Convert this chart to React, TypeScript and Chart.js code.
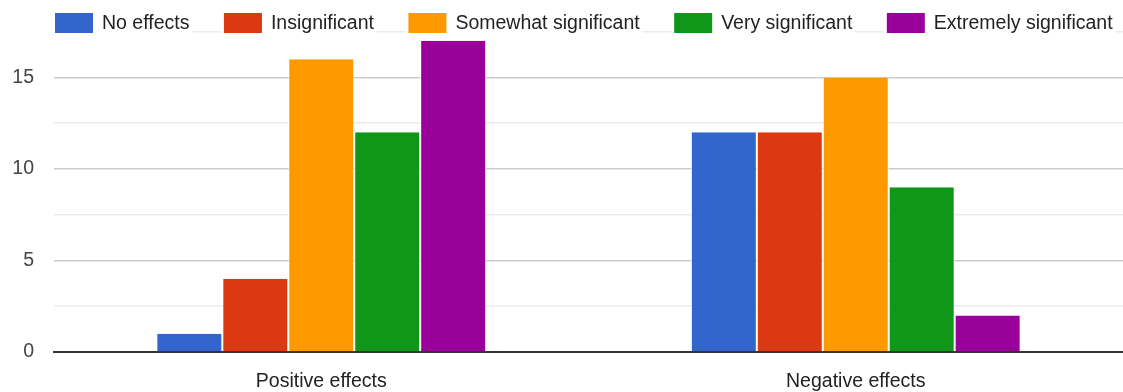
import React, { useEffect, useRef } from "react";
import { Chart, registerables } from "chart.js";

Chart.register(...registerables);

// Categories and series values
const categories = ["Positive effects", "Negative effects"];
const seriesNames = [
  "No effects",
  "Insignificant",
  "Somewhat significant",
  "Very significant",
  "Extremely significant",
];
const noEffects = [1, 12];
const insignificant = [4, 12];
const somewhatSignificant = [16, 15];
const verySignificant = [12, 9];
const extremelySignificant = [17, 2];
const seriesColors = ["#3366cc", "#dc3912", "#ff9900", "#109618", "#990099"];

const FONT_FAMILY = '"Liberation Sans", Arial, sans-serif';
const FONT_SIZE = 19.5;

// Legend drawn on top of the plot, over the upper gridline
const topLegend = {
  id: "topLegend",
  afterDraw(chart: any) {
    const ctx = chart.ctx as CanvasRenderingContext2D;
    ctx.save();
    ctx.font = `${FONT_SIZE}px ${FONT_FAMILY}`;
    ctx.textBaseline = "middle";
    ctx.textAlign = "left";
    const boxW = 38;
    const boxH = 20;
    const boxTop = 13;
    const gapText = 9;
    const gapItem = 34.5;
    let x = 55;
    chart.data.datasets.forEach((ds: any) => {
      const label = ds.label as string;
      const tw = ctx.measureText(label).width;
      ctx.fillStyle = "#ffffff";
      ctx.fillRect(x - 3, boxTop - 2, boxW + gapText + tw + 6, boxH + 4);
      ctx.fillStyle = ds.backgroundColor;
      ctx.fillRect(x, boxTop, boxW, boxH);
      ctx.fillStyle = "#222222";
      ctx.fillText(label, x + boxW + gapText, boxTop + boxH / 2 + 1);
      x += boxW + gapText + tw + gapItem;
    });
    ctx.restore();
  },
};

export default function App() {
  const canvasRef = useRef<HTMLCanvasElement | null>(null);

  useEffect(() => {
    if (!canvasRef.current) return;
    const values = [
      noEffects,
      insignificant,
      somewhatSignificant,
      verySignificant,
      extremelySignificant,
    ];
    const chart = new Chart(canvasRef.current, {
      type: "bar",
      data: {
        labels: categories,
        datasets: seriesNames.map((name, i) => ({
          label: name,
          data: values[i],
          backgroundColor: seriesColors[i],
          borderColor: "rgba(255,255,255,0.9)",
          borderWidth: { left: 1, right: 1, top: 0, bottom: 0 },
          borderSkipped: false,
          categoryPercentage: 0.617,
          barPercentage: 1,
        })),
      },
      options: {
        responsive: false,
        animation: false,
        layout: { padding: { top: 27, right: 0, left: 0, bottom: 0 } },
        plugins: {
          legend: { display: false },
          tooltip: { enabled: false },
        },
        scales: {
          x: {
            z: 1,
            grid: { display: false },
            border: { display: true, color: "#333333", width: 2 },
            ticks: {
              color: "#222222",
              padding: 10,
              font: { family: FONT_FAMILY, size: FONT_SIZE },
            },
            afterFit(scale: any) {
              scale.height = 40;
            },
          },
          y: {
            min: 0,
            max: 17.5,
            border: { display: false },
            grid: {
              drawTicks: false,
              color: (c: any) => {
                const v = c.tick ? c.tick.value : 0;
                if (v === 0) return "rgba(0,0,0,0)";
                return v % 5 === 0 ? "#cccccc" : "#ebebeb";
              },
              lineWidth: 1.5,
            },
            ticks: {
              stepSize: 2.5,
              padding: 20,
              color: "#444444",
              font: { family: FONT_FAMILY, size: FONT_SIZE },
              callback: (v: any) => (Number(v) % 5 === 0 ? String(v) : ""),
            },
            afterFit(scale: any) {
              scale.width = 54;
            },
          },
        },
      },
      plugins: [topLegend],
    });
    return () => chart.destroy();
  }, []);

  return (
    <div style={{ position: "absolute", left: 0, top: 0, width: 1123, height: 392, background: "#fff" }}>
      <canvas ref={canvasRef} width={1123} height={392} style={{ display: "block" }} />
    </div>
  );
}
